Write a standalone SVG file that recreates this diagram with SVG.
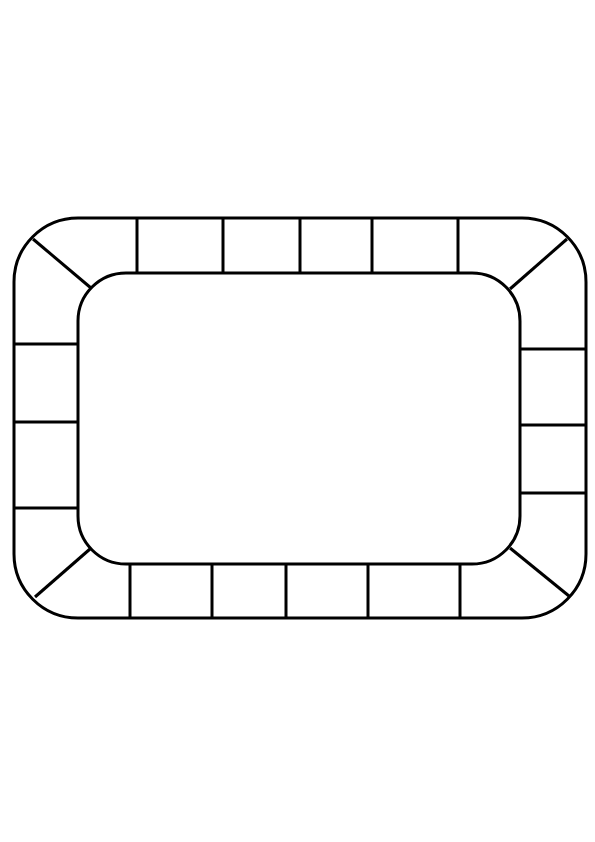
<svg xmlns="http://www.w3.org/2000/svg" width="595" height="842" viewBox="0 0 595 842">
<style>
.b{fill:none;stroke:#000;stroke-width:3}
.l{stroke:#000;stroke-width:3;fill:none}
</style>
<rect width="595" height="842" fill="#fff"/>
<g id="board">
<rect id="outer" class="b" x="14" y="218" width="572" height="400" rx="64" ry="64"/>
<rect id="inner" class="b" x="78" y="273" width="442" height="291" rx="48" ry="48"/>
</g>
<g id="dividers">
<line class="l" x1="33" y1="239" x2="91" y2="288"/>
<line class="l" x1="567" y1="239" x2="510" y2="289"/>
<line class="l" x1="35" y1="597" x2="90" y2="549"/>
<line class="l" x1="569" y1="596" x2="510" y2="548"/>
<line class="l" x1="137" y1="218" x2="137" y2="273"/>
<line class="l" x1="223" y1="218" x2="223" y2="273"/>
<line class="l" x1="300" y1="218" x2="300" y2="273"/>
<line class="l" x1="372" y1="218" x2="372" y2="273"/>
<line class="l" x1="458" y1="218" x2="458" y2="273"/>
<line class="l" x1="130" y1="564" x2="130" y2="618"/>
<line class="l" x1="212" y1="564" x2="212" y2="618"/>
<line class="l" x1="286" y1="564" x2="286" y2="618"/>
<line class="l" x1="368" y1="564" x2="368" y2="618"/>
<line class="l" x1="460" y1="564" x2="460" y2="618"/>
<line class="l" x1="14" y1="344" x2="78" y2="344"/>
<line class="l" x1="14" y1="422" x2="78" y2="422"/>
<line class="l" x1="14" y1="508" x2="78" y2="508"/>
<line class="l" x1="520" y1="349" x2="586" y2="349"/>
<line class="l" x1="520" y1="425" x2="586" y2="425"/>
<line class="l" x1="520" y1="493" x2="586" y2="493"/>
</g>
</svg>
